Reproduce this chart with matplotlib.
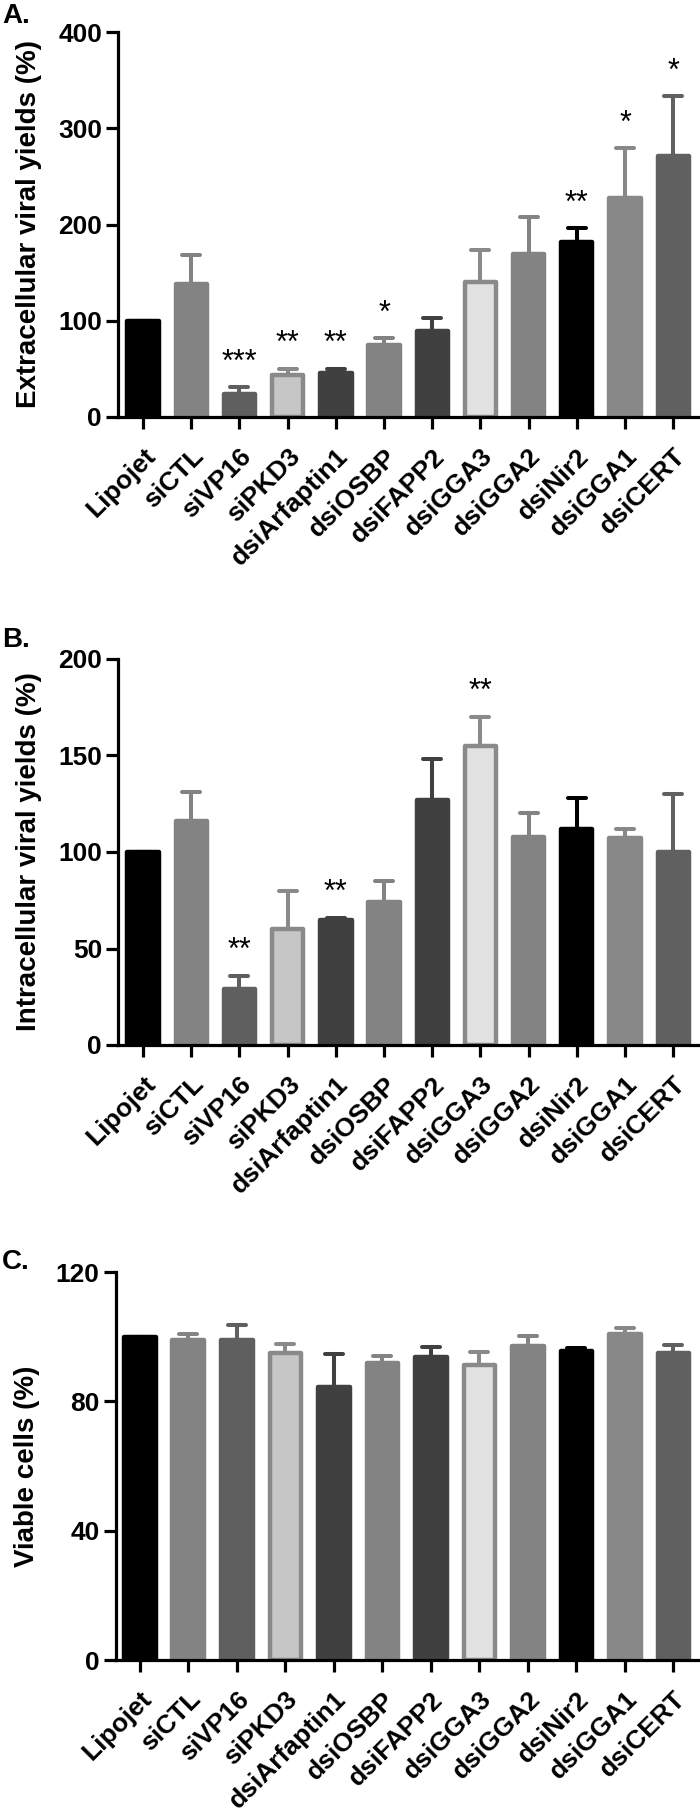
import matplotlib
matplotlib.use("Agg")
import matplotlib.pyplot as plt
from matplotlib.markers import MarkerStyle
import numpy as np

plt.rcParams['font.family'] = ['Liberation Sans', 'DejaVu Sans']
plt.rcParams['font.weight'] = 'bold'

categories = ["Lipojet", "siCTL", "siVP16", "siPKD3", "dsiArfaptin1", "dsiOSBP",
              "dsiFAPP2", "dsiGGA3", "dsiGGA2", "dsiNir2", "dsiGGA1", "dsiCERT"]

# Panel A: extracellular viral yields (%)
extra_mean = [100, 138, 24, 44, 46, 75, 89, 140, 169, 182, 228, 271]
extra_err  = [0, 30, 7, 6, 4, 7, 14, 34, 39, 14, 51, 62]
extra_sig  = ["", "", "***", "**", "**", "*", "", "", "", "**", "*", "*"]

# Panel B: intracellular viral yields (%)
intra_mean = [100, 116, 29, 60, 65, 74, 127, 155, 108, 112, 107, 100]
intra_err  = [0, 15, 7, 20, 1, 11, 21, 15, 12, 16, 5, 30]
intra_sig  = ["", "", "**", "", "**", "", "", "**", "", "", "", ""]

# Panel C: viable cells (%)
viable_mean = [100, 99, 99, 95, 84.5, 92, 93.7, 91.2, 97, 95.7, 100.7, 95]
viable_err  = [0, 1.8, 4.5, 2.6, 10, 2, 3, 4.2, 3.3, 0.9, 2, 2.4]

fill_colors = ["#000000", "#838383", "#5f5f5f", "#c6c6c6", "#404040", "#838383",
               "#404040", "#e2e2e2", "#838383", "#000000", "#888888", "#606060"]
edge_colors = ["#000000", "#838383", "#5f5f5f", "#8a8a8a", "#404040", "#838383",
               "#404040", "#8a8a8a", "#838383", "#000000", "#888888", "#606060"]

W, H = 700, 1820
DPI = 100
fig = plt.figure(figsize=(W / DPI, H / DPI), dpi=DPI)

def px_rect(left, right, top, bottom):
    return [left / W, 1 - bottom / H, (right - left) / W, (bottom - top) / H]

panels = [
    dict(rect=px_rect(118, 699, 32, 417), xlim=(-0.52, 11.535), ylim=(0, 400),
         yticks=[0, 100, 200, 300, 400], mean=extra_mean, err=extra_err, sig=extra_sig,
         ylabel="Extracellular viral yields (%)", letter="A.", letter_pos=(2, 16)),
    dict(rect=px_rect(118, 699, 659, 1045), xlim=(-0.52, 11.535), ylim=(0, 200),
         yticks=[0, 50, 100, 150, 200], mean=intra_mean, err=intra_err, sig=intra_sig,
         ylabel="Intracellular viral yields (%)", letter="B.", letter_pos=(2, 640)),
    dict(rect=px_rect(115.5, 700, 1272, 1660), xlim=(-0.5, 11.55), ylim=(0, 120),
         yticks=[0, 40, 80, 120], mean=viable_mean, err=viable_err, sig=None,
         ylabel="Viable cells (%)", letter="C.", letter_pos=(2, 1262)),
]

x = np.arange(len(categories))
edge_lw = 3.2  # points
round_cap = MarkerStyle('_', capstyle='round')

for p in panels:
    ax = fig.add_axes(p["rect"])
    ax.set_xlim(*p["xlim"])
    ax.set_ylim(*p["ylim"])
    for i in range(len(categories)):
        _, caps, _ = ax.errorbar(x[i], p["mean"][i], yerr=[[0], [p["err"][i]]], fmt='none',
                                 ecolor=edge_colors[i], elinewidth=2.9, capsize=6.8,
                                 capthick=2.9, zorder=1)
        for c in caps:
            c.set_marker(round_cap)
    ax.bar(x, p["mean"], width=0.65, color=fill_colors, edgecolor=edge_colors,
           linewidth=edge_lw, joinstyle='round', zorder=2)
    if p["sig"] is not None:
        for i, s in enumerate(p["sig"]):
            if s:
                ax.annotate(s, xy=(x[i], p["mean"][i] + p["err"][i]),
                            xytext=(0, 12), textcoords='offset points',
                            ha='center', va='baseline', fontsize=22,
                            fontweight='normal', zorder=3)
    for side in ("top", "right"):
        ax.spines[side].set_visible(False)
    for side in ("left", "bottom"):
        ax.spines[side].set_linewidth(2.3)
    ax.set_yticks(p["yticks"])
    ax.set_xticks(x)
    ax.set_xticklabels(categories, rotation=45, ha='right', va='top',
                       rotation_mode='anchor')
    ax.tick_params(axis='both', width=2.3, length=8.5, labelsize=19)
    ax.tick_params(axis='y', pad=3)
    ax.tick_params(axis='x', pad=11)
    for lab in ax.get_xticklabels() + ax.get_yticklabels():
        lab.set_fontweight('bold')
    ax.set_ylabel(p["ylabel"], fontsize=20, fontweight='bold')
    ax.yaxis.set_label_coords(-0.13, 0.5)
    fig.text(p["letter_pos"][0] / W, 1 - p["letter_pos"][1] / H, p["letter"],
             fontsize=20, fontweight='bold', ha='left', va='center')

fig.savefig("out.png", dpi=DPI)
